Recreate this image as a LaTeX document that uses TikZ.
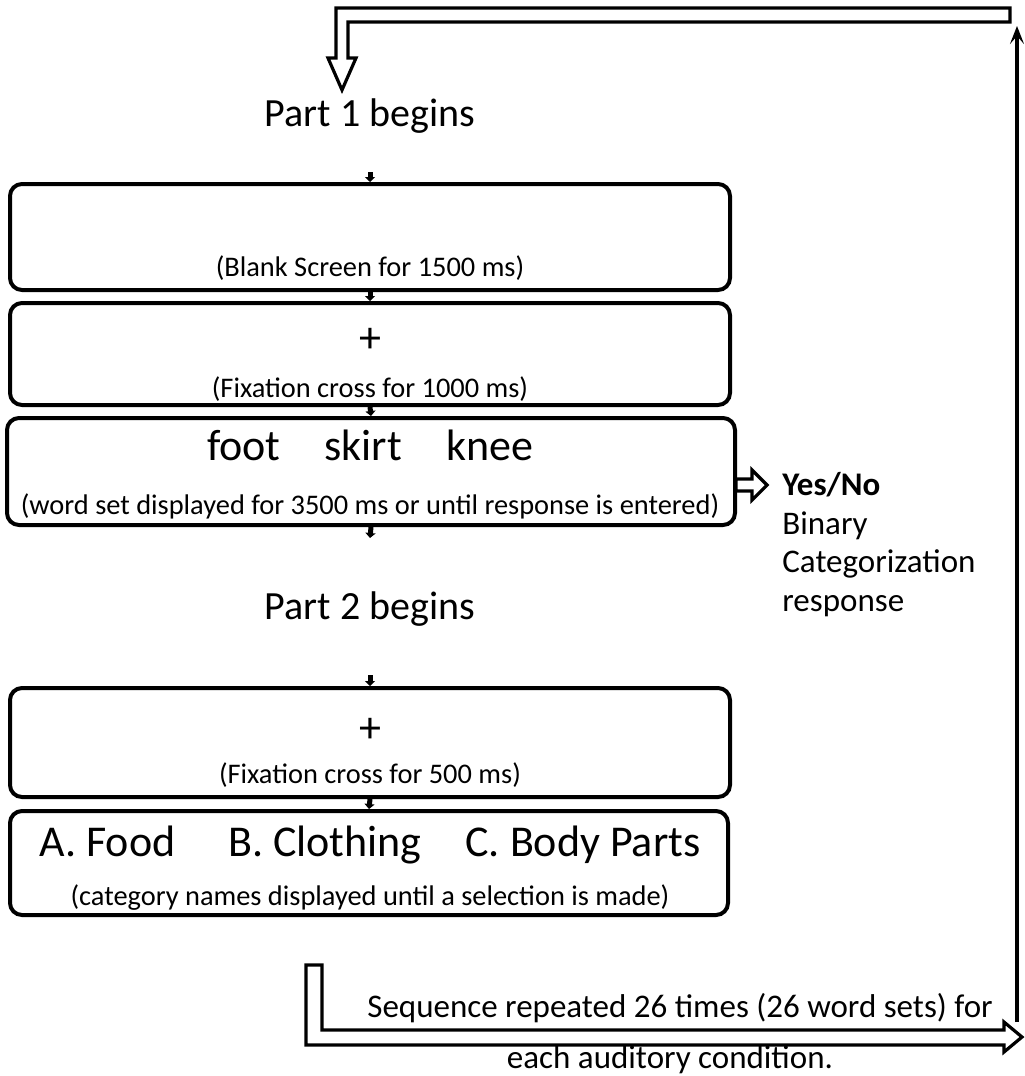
\documentclass[tikz,border=0pt]{standalone}
\usepackage{fontspec}
\setmainfont{Carlito}
\usetikzlibrary{arrows.meta}

\tikzset{
  screen/.style={draw, line width=2pt, rounded corners=6pt, inner sep=0pt, minimum width=360pt},
  big/.style={font=\fontsize{20}{24}\selectfont},
  boxbig/.style={font=\fontsize{22}{26}\selectfont},
  small/.style={font=\fontsize{14.2}{17}\selectfont},
  side/.style={font=\fontsize{16.5}{19.3}\selectfont},
  nextarrow/.style={line width=2.5pt, -{Triangle[width=5pt,length=2.5pt]}},
  hollow/.style={draw, line width=1.6pt, fill=white, line join=miter},
}

\begin{document}
\begin{tikzpicture}[x=0.5pt, y=-0.5pt]
		\useasboundingbox (0,0) rectangle (1024,1076);

		% part 1
		\node[big] (part1) at (370,116) {Part 1 begins};
		\coordinate (in1) at (370,172);
		\node[screen, minimum height=53pt] (blank) at (370,237) {};
		\node[small] (blankTxt) at (370,268) {(Blank Screen for 1500 ms)};
		\node[screen, minimum height=51pt] (fix1) at (370,354) {};
		\node[boxbig] (cross1) at (370,340) {+};
		\node[small] (fix1Txt) at (370,389) {(Fixation cross for 1000 ms)};
		\node[screen, minimum width=364pt, minimum height=53.5pt] (words) at (371,471.5) {};
		\node[boxbig] (wordsTop) at (370,445) {foot\hspace{1em}skirt\hspace{1em}knee};
		\node[small] (wordsTxt) at (370,506) {(word set displayed for 3500 ms or until response is entered)};
		\coordinate (out1) at (370,538);

		\draw[nextarrow] (in1) -- (blank.north);
		\draw[nextarrow] (blank.south) -- (fix1.north);
		\draw[nextarrow] (fix1.south) -- (words.north);
		\draw[nextarrow] (words.south) -- (out1);

		% response
		\node[side, align=left, anchor=north west, inner sep=0pt] (resp) at (782,472) {\textbf{Yes/No}\\Binary\\Categorization\\response};
		\draw[hollow] (736,479) -- (752,479) -- (752,470) -- (767,485) -- (752,500) -- (752,491) -- (736,491) -- cycle;

		% part 2
		\node[big] (part2) at (370,609) {Part 2 begins};
		\coordinate (in2) at (370,675);
		\node[screen, minimum height=54.5pt] (fix2) at (370,742.5) {};
		\node[boxbig] (cross2) at (370,730) {+};
		\node[small] (fix2Txt) at (370,775) {(Fixation cross for 500 ms)};
		\node[screen, minimum width=359pt, minimum height=52pt] (cats) at (369,863) {};
		\node[boxbig] (catsTop) at (370,845) {A. Food\hspace{1.2em}B. Clothing\hspace{1em}C. Body Parts};
		\node[small] (catsTxt) at (370,898) {(category names displayed until a selection is made)};

		\draw[nextarrow] (in2) -- (fix2.north);
		\draw[nextarrow] (fix2.south) -- (cats.north);

		% loop back
		\draw[hollow] (306,965) -- (322,965) -- (322,1030) -- (1004,1030) -- (1004,1022) -- (1022,1037) -- (1004,1052) -- (1004,1045) -- (306,1045) -- cycle;
		\node[side] (rep1) at (680,1008) {Sequence repeated 26 times (26 word sets) for};
		\node[side] (rep2) at (670,1060) {each auditory condition.};
		\coordinate (back) at (1017,1022);
		\coordinate (backTop) at (1017,26);
		\draw[line width=1.6pt, -{Stealth[length=9pt,width=7pt,inset=4pt]}] (back) -- (backTop);
		\draw[hollow] (1010,8) -- (336,8) -- (336,58) -- (328,58) -- (342,90) -- (356,58) -- (348,58) -- (348,22) -- (1010,22) -- cycle;

	\end{tikzpicture}
\end{document}
